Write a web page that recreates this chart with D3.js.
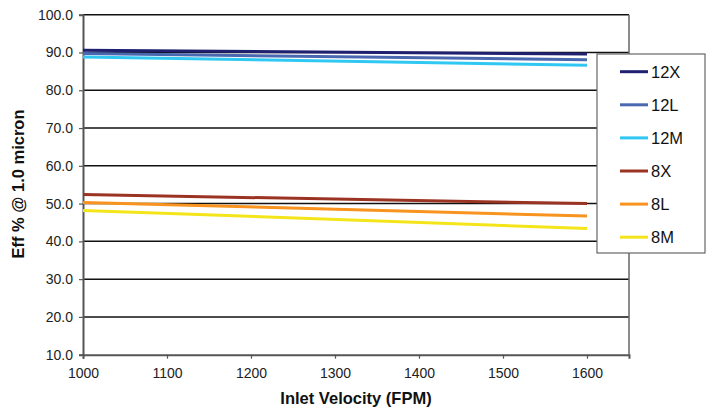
<html>
<head>
<meta charset="utf-8">
<script src="https://d3js.org/d3.v7.min.js"></script>
<style>
  body { margin: 0; background: #fff; }
  text { font-family: "Liberation Sans", Arial, sans-serif; }
</style>
</head>
<body>
<svg width="712" height="412"></svg>
<script>
// data
var velocity = [1000, 1600];
var seriesNames = ['12X', '12L', '12M', '8X', '8L', '8M'];
var eff12X = [90.6, 89.6];
var eff12L = [89.7, 88.1];
var eff12M = [88.8, 86.6];
var eff8X = [52.4, 50.0];
var eff8L = [50.3, 46.7];
var eff8M = [48.2, 43.4];
var yTicks = [10, 20, 30, 40, 50, 60, 70, 80, 90, 100];
var xTicks = [1000, 1100, 1200, 1300, 1400, 1500, 1600];

var colors = {'12X': '#202070', '12L': '#4a68b0', '12M': '#30c8f2',
              '8X': '#9b3322', '8L': '#f7931e', '8M': '#f4e51a'};
var values = {'12X': eff12X, '12L': eff12L, '12M': eff12M,
              '8X': eff8X, '8L': eff8L, '8M': eff8M};

function draw() {
  var svg = d3.select('svg');
  var pl = 83, pr = 629, pt = 14.7, pb = 354.7;

  var x = d3.scaleLinear().domain([1000, 1650]).range([pl, pr]);
  var y = d3.scaleLinear().domain([10, 100]).range([pb, pt]);

  // gridlines
  svg.selectAll('.grid')
    .data(yTicks.slice(1))
    .enter()
    .append('line')
    .attr('x1', pl).attr('x2', pr)
    .attr('y1', function(d){ return y(d); })
    .attr('y2', function(d){ return y(d); })
    .attr('stroke', '#111')
    .attr('stroke-width', 1.5);

  // right border
  svg.append('line')
    .attr('x1', pr).attr('x2', pr)
    .attr('y1', pt).attr('y2', pb)
    .attr('stroke', '#666').attr('stroke-width', 1.5);

  // axes
  var yAxis = svg.append('g')
    .attr('transform', 'translate(' + pl + ',0)')
    .call(d3.axisLeft(y).tickValues(yTicks).tickFormat(d3.format('.1f')).tickSize(4).tickPadding(6));
  var xAxis = svg.append('g')
    .attr('transform', 'translate(0,' + pb + ')')
    .call(d3.axisBottom(x).tickValues(xTicks).tickFormat(d3.format('d')).tickSize(4).tickPadding(9));

  [yAxis, xAxis].forEach(function(a){
    a.select('.domain').attr('stroke', '#555').attr('stroke-width', 2);
    a.selectAll('.tick line').attr('stroke', '#555').attr('stroke-width', 1.2);
    a.selectAll('.tick text')
      .attr('fill', '#222')
      .style('font-family', '"Liberation Sans", Arial, sans-serif')
      .style('font-size', '14px');
  });

  // series lines
  var line = d3.line()
    .x(function(d, i){ return x(velocity[i]); })
    .y(function(d){ return y(d); });

  seriesNames.forEach(function(name){
    svg.append('path')
      .datum(values[name])
      .attr('d', line)
      .attr('fill', 'none')
      .attr('stroke', colors[name])
      .attr('stroke-width', 3);
  });

  // legend
  svg.append('rect')
    .attr('x', 597).attr('y', 54)
    .attr('width', 108).attr('height', 199)
    .attr('fill', '#fff')
    .attr('stroke', '#666').attr('stroke-width', 1.2);

  seriesNames.forEach(function(name, i){
    var ly = 71.7 + i * 33.1;
    svg.append('line')
      .attr('x1', 620).attr('x2', 648)
      .attr('y1', ly).attr('y2', ly)
      .attr('stroke', colors[name]).attr('stroke-width', 3);
    svg.append('text')
      .text(name)
      .attr('x', 651).attr('y', ly + 6)
      .attr('font-size', '16.5px')
      .attr('fill', '#111');
  });

  // axis titles
  svg.append('text')
    .text('Inlet Velocity (FPM)')
    .attr('x', 356).attr('y', 404)
    .attr('text-anchor', 'middle')
    .attr('font-size', '16.5px')
    .attr('font-weight', 'bold')
    .attr('fill', '#111');

  svg.append('text')
    .text('Eff % @ 1.0 micron')
    .attr('transform', 'translate(24,184) rotate(-90)')
    .attr('text-anchor', 'middle')
    .attr('font-size', '16.5px')
    .attr('font-weight', 'bold')
    .attr('fill', '#111');
}
draw();
</script>
</body>
</html>
